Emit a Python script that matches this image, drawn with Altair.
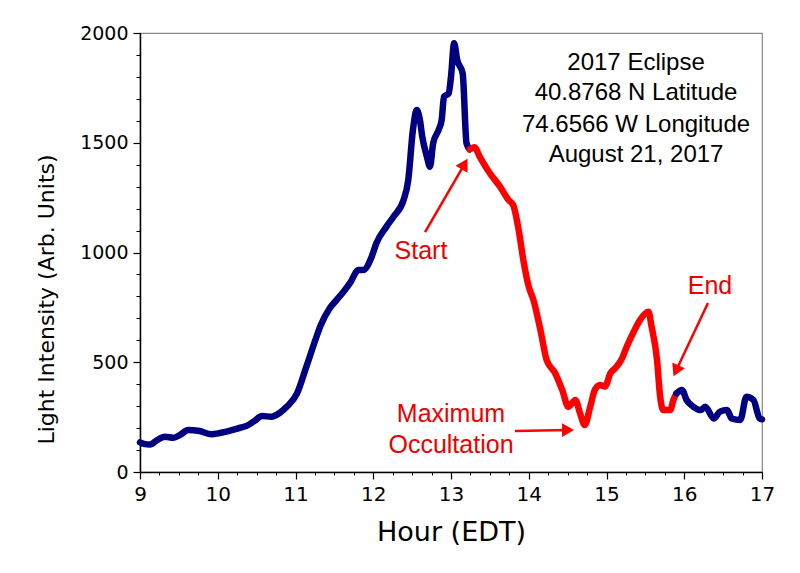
import altair as alt
import pandas as pd

# ---- data ----
blue1_hour = [9.0, 9.05, 9.13, 9.22, 9.32, 9.43, 9.52, 9.62, 9.75, 9.92, 10.11, 10.25, 10.37,
              10.47, 10.57, 10.69, 10.8, 10.89, 11.02, 11.14, 11.27, 11.32, 11.44, 11.53, 11.62,
              11.70, 11.81, 11.87, 11.98, 12.04, 12.17, 12.26, 12.39, 12.45, 12.51, 12.56, 12.60,
              12.63, 12.69, 12.73, 12.77, 12.84, 12.88, 12.91, 12.97, 13.00, 13.04, 13.08, 13.15,
              13.20, 13.24]
blue1_val = [135, 128, 125, 145, 161, 156, 170, 191, 188, 172, 184, 198, 210,
             232, 255, 252, 270, 298, 358, 480, 616, 665, 746, 784, 822,
             860, 920, 920, 981, 1042, 1118, 1163, 1239, 1330, 1558, 1649, 1604,
             1528, 1436, 1391, 1497, 1558, 1604, 1710, 1725, 1801, 1953, 1877, 1816,
             1497, 1470]

red_hour = [13.24, 13.30, 13.37, 13.50, 13.63, 13.74, 13.80, 13.87, 13.93, 14.00, 14.06, 14.15,
            14.23, 14.34, 14.43, 14.51, 14.60, 14.66, 14.72, 14.79, 14.85, 14.92, 14.98, 15.05,
            15.11, 15.20, 15.26, 15.35, 15.43, 15.54, 15.58, 15.65, 15.69, 15.73, 15.82, 15.86,
            15.90]
red_val = [1470, 1480, 1436, 1361, 1300, 1239, 1216, 1103, 966, 844, 784, 647,
           510, 450, 374, 297, 328, 267, 214, 297, 374, 396, 389, 450,
           472, 518, 571, 639, 692, 730, 662, 510, 343, 282, 282, 328,
           358]

blue2_hour = [15.90, 15.97, 16.03, 16.12, 16.21, 16.27, 16.38, 16.46, 16.55, 16.61, 16.72,
              16.80, 16.89, 16.97, 17.0]
blue2_val = [358, 374, 328, 297, 282, 297, 244, 275, 282, 244, 237,
             343, 328, 244, 240]

x_major = [9, 10, 11, 12, 13, 14, 15, 16, 17]
x_minor = [9 + 0.25 * i for i in range(33)]
y_major = [0, 500, 1000, 1500, 2000]
y_minor = [100 * i for i in range(21)]

info_lines = ["2017 Eclipse", "40.8768 N Latitude", "74.6566 W Longitude", "August 21, 2017"]
info_hour = [15.38, 15.38, 15.38, 15.38]
info_val = [1863, 1725, 1583, 1442]

red_labels = ["Start", "End", "Maximum", "Occultation"]
red_label_hour = [12.614, 16.331, 13.0, 13.0]
red_label_val = [1007, 847, 264, 123]

arrow_tail_hour = [12.666, 16.305, 13.823]
arrow_tail_val = [1093, 770, 187]
arrow_head_hour = [13.174, 15.894, 14.505]
arrow_head_val = [1403, 461, 191]
arrow_angle = [30, 205, 90]

# ---- tables ----
line_df = pd.concat([
    pd.DataFrame({"hour": blue1_hour, "val": blue1_val, "seg": "a", "col": "blue"}),
    pd.DataFrame({"hour": red_hour, "val": red_val, "seg": "b", "col": "red"}),
    pd.DataFrame({"hour": blue2_hour, "val": blue2_val, "seg": "c", "col": "blue"}),
], ignore_index=True)
line_df["order"] = range(len(line_df))

info_df = pd.DataFrame({"hour": info_hour, "val": info_val, "txt": info_lines})
red_df = pd.DataFrame({"hour": red_label_hour, "val": red_label_val, "txt": red_labels})
arrow_df = pd.DataFrame({"h1": arrow_tail_hour, "v1": arrow_tail_val,
                         "h2": arrow_head_hour, "v2": arrow_head_val, "ang": arrow_angle})
xminor_df = pd.DataFrame({"hour": x_minor, "val": [0] * len(x_minor)})
yminor_df = pd.DataFrame({"val": y_minor, "hour": [9] * len(y_minor)})

xscale = alt.Scale(domain=[9, 17], nice=False)
yscale = alt.Scale(domain=[0, 2000], nice=False)

FONT = "DejaVu Sans"

x_axis = alt.Axis(values=x_major, format="d", title="Hour (EDT)", tickSize=7, tickWidth=1.2,
                  tickColor="black", domainColor="black", domainWidth=1.5, labelFontSize=20,
                  labelFont=FONT, labelColor="black", labelPadding=5, titleFont=FONT,
                  titleFontSize=27, titleFontWeight="normal", titleColor="black",
                  titlePadding=15, grid=False, labelFlush=False, orient="bottom")
y_axis = alt.Axis(values=y_major, format="d", title="Light Intensity (Arb. Units)", tickSize=7,
                  tickWidth=1.2, tickColor="black", domainColor="black", domainWidth=1.5,
                  labelFontSize=19, labelFont=FONT, labelColor="black", labelPadding=5,
                  titleFont=FONT, titleFontSize=22, titleFontWeight="normal",
                  titleColor="black", titlePadding=21, titleY=266, grid=False,
                  labelFlush=False, orient="left")

lines = alt.Chart(line_df).mark_line(strokeWidth=6.5, strokeCap="round", strokeJoin="round",
                                     interpolate="monotone").encode(
    x=alt.X("hour:Q", scale=xscale, axis=x_axis),
    y=alt.Y("val:Q", scale=yscale, axis=y_axis),
    color=alt.Color("col:N", scale=alt.Scale(domain=["blue", "red"], range=["#000080", "#ff0000"]),
                    legend=None),
    detail="seg:N",
    order="order:Q",
)

xminor = alt.Chart(xminor_df).mark_point(opacity=0).encode(
    x=alt.X("hour:Q", scale=xscale,
            axis=alt.Axis(values=x_minor, labels=False, title=None, tickSize=3, tickWidth=1,
                          tickColor="black", domain=False, grid=False, orient="bottom")),
    y=alt.Y("val:Q", scale=yscale, axis=None),
)
yminor = alt.Chart(yminor_df).mark_point(opacity=0).encode(
    x=alt.X("hour:Q", scale=xscale, axis=None),
    y=alt.Y("val:Q", scale=yscale,
            axis=alt.Axis(values=y_minor, labels=False, title=None, tickSize=4, tickWidth=1,
                          tickColor="black", domain=False, grid=False, orient="left")),
)

info = alt.Chart(info_df).mark_text(font="Liberation Sans", fontSize=24, color="black",
                                    align="center", baseline="middle").encode(
    x=alt.X("hour:Q", scale=xscale, axis=None), y=alt.Y("val:Q", scale=yscale, axis=None),
    text="txt:N")

redtxt = alt.Chart(red_df).mark_text(font="Liberation Sans", fontSize=25, color="#ee0000",
                                     align="center", baseline="middle").encode(
    x=alt.X("hour:Q", scale=xscale, axis=None), y=alt.Y("val:Q", scale=yscale, axis=None),
    text="txt:N")

arrow_lines = alt.Chart(arrow_df).mark_rule(color="#ff0000", strokeWidth=2.5).encode(
    x=alt.X("h1:Q", scale=xscale, axis=None), y=alt.Y("v1:Q", scale=yscale, axis=None),
    x2="h2:Q", y2="v2:Q")

arrow_heads = alt.Chart(arrow_df).mark_point(shape="triangle-up", filled=True, size=190,
                                             color="#ff0000", opacity=1).encode(
    x=alt.X("h2:Q", scale=xscale, axis=None), y=alt.Y("v2:Q", scale=yscale, axis=None),
    angle=alt.Angle("ang:Q", scale=None))

chart = alt.layer(xminor, yminor, lines, arrow_lines, arrow_heads, info, redtxt).resolve_axis(
    x="independent", y="independent"
).properties(
    width=622, height=439,
    autosize=alt.AutoSizeParams(type="none"),
    padding={"left": 132, "top": 25, "right": 30, "bottom": 93},
    background="white",
).configure_view(stroke="#888888", strokeWidth=1.2)

chart.save("out.html", embed_options={"renderer": "svg", "actions": False})
